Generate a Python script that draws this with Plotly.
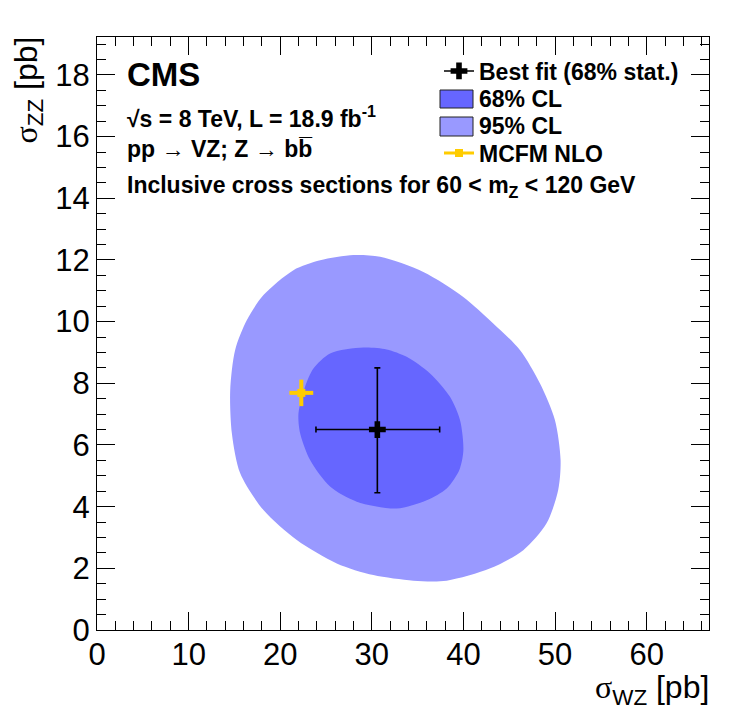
import plotly.graph_objects as go

# 95% CL contour (sigma_WZ, sigma_ZZ) in pb
cl95_x = [30.9, 28.0, 24.35, 21.44, 18.17, 16.36, 15.08, 14.54, 14.72, 15.63, 18.17,
          21.81, 26.17, 30.17, 34.53, 38.17, 42.93, 46.53, 49.07, 50.34, 50.60, 49.98,
          48.34, 46.16, 43.25, 39.98, 35.62, 30.9]
cl95_y = [12.10, 12.16, 11.99, 11.67, 10.86, 10.05, 9.08, 7.78, 6.38, 5.08, 3.89,
          2.92, 2.16, 1.78, 1.60, 1.60, 2.00, 2.59, 3.46, 4.54, 5.51, 6.81,
          8.00, 9.08, 9.94, 10.80, 11.61, 12.10]

# 68% CL contour
cl68_x = [31.62, 29.07, 25.44, 23.62, 22.71, 21.99, 22.17, 23.26, 25.44, 28.35,
          32.71, 35.99, 38.17, 39.55, 39.99, 39.62, 38.53, 36.35, 33.80, 31.62]
cl68_y = [9.10, 9.16, 8.97, 8.48, 7.89, 7.02, 6.38, 5.51, 4.65, 4.16,
          3.94, 4.21, 4.59, 5.19, 5.83, 6.81, 7.56, 8.32, 8.86, 9.10]

# best fit with 68% stat. interval
fit_x, fit_x_lo, fit_x_hi = 30.6, 23.9, 37.4
fit_y, fit_y_lo, fit_y_hi = 6.5, 4.45, 8.5

# MCFM NLO prediction
mcfm_x, mcfm_x_err = 22.3, 1.3
mcfm_y, mcfm_y_err = 7.69, 0.43

x_ticks = [0, 10, 20, 30, 40, 50, 60]
y_ticks = [0, 2, 4, 6, 8, 10, 12, 14, 16, 18]

FONT = "Liberation Sans, Arial, Helvetica, sans-serif"
SIGMA = "<span style='font-family:Liberation Serif'>σ</span>"
C95, C68, GOLD = "#9999ff", "#6666ff", "#ffcc00"

# page body adds 8px, so the figure is 16px smaller than the window
W, H = 731, 709
L, T, R, B = 89, 29, 30, 87
PW, PH = W - L - R, H - T - B


# helpers: screen pixel of the reference -> paper coordinate
def px(x):
    return (x - 8 - L) / PW


def py(y):
    return (H - B - (y - 8)) / PH


fig = go.Figure()

fig.add_trace(go.Scatter(
    x=cl95_x, y=cl95_y, fill="toself", mode="lines",
    fillcolor=C95, line=dict(width=0, color=C95, shape="spline", smoothing=0.8),
    name="95% CL", showlegend=False,
))
fig.add_trace(go.Scatter(
    x=cl68_x, y=cl68_y, fill="toself", mode="lines",
    fillcolor=C68, line=dict(width=0, color=C68, shape="spline", smoothing=0.8),
    name="68% CL", showlegend=False,
))
fig.add_trace(go.Scatter(
    x=[mcfm_x], y=[mcfm_y], mode="lines+markers",
    marker=dict(symbol="square", size=8, color=GOLD),
    line=dict(color=GOLD, width=3),
    error_x=dict(type="data", array=[mcfm_x_err], color=GOLD, thickness=4, width=0),
    error_y=dict(type="data", array=[mcfm_y_err], color=GOLD, thickness=4, width=0),
    name="MCFM NLO", legend="legend2",
))
fig.add_trace(go.Scatter(
    x=[fit_x], y=[fit_y], mode="lines+markers",
    marker=dict(symbol="cross", size=14, color="black"),
    line=dict(color="black", width=1.5),
    error_x=dict(type="data", array=[fit_x_hi - fit_x], arrayminus=[fit_x - fit_x_lo],
                 color="black", thickness=1.6, width=3),
    error_y=dict(type="data", array=[fit_y_hi - fit_y], arrayminus=[fit_y - fit_y_lo],
                 color="black", thickness=1.6, width=3),
    name="Best fit (68% stat.)", legend="legend",
))

axis_common = dict(
    showgrid=False, zeroline=False, showline=True, linecolor="black", linewidth=1,
    mirror="allticks", ticks="inside", ticklen=18, tickwidth=1, tickcolor="black",
    tickfont=dict(family=FONT, size=31, color="black"), automargin=False,
)

fig.update_xaxes(
    range=[0, 66.8], tickvals=x_ticks,
    minor=dict(dtick=2, ticks="inside", ticklen=9, tickcolor="black", tickwidth=1),
    ticklabelstandoff=-3,
    **axis_common,
)
fig.update_yaxes(
    range=[0, 19.23], tickvals=y_ticks,
    minor=dict(dtick=0.5, ticks="inside", ticklen=9, tickcolor="black", tickwidth=1),
    ticklabelstandoff=0,
    **axis_common,
)

annotations = [
    dict(text=f"{SIGMA}<sub>WZ</sub> [pb]", x=px(711), y=py(689), xanchor="right",
         yanchor="middle", font=dict(size=32)),
    dict(text=f"{SIGMA}<sub>ZZ</sub> [pb]", x=px(28), y=py(35), xanchor="center",
         yanchor="top", textangle=-90, font=dict(size=32)),
    dict(text="<b>CMS</b>", x=px(125), y=py(74), xanchor="left", yanchor="middle",
         font=dict(size=33)),
    dict(text="<b>√s = 8 TeV, L = 18.9 fb<sup>-1</sup></b>", x=px(125), y=py(117),
         xanchor="left", yanchor="middle", font=dict(size=23)),
    dict(text="<b>pp → VZ; Z → bb\u0305</b>", x=px(125), y=py(149),
         xanchor="left", yanchor="middle", font=dict(size=23)),
    dict(text="<b>Inclusive cross sections for 60 < m<sub>Z</sub> < 120 GeV</b>",
         x=px(125), y=py(186), xanchor="left", yanchor="middle", font=dict(size=23)),
    dict(text="<b>68% CL</b>", x=px(477), y=py(99), xanchor="left", yanchor="middle",
         font=dict(size=23)),
    dict(text="<b>95% CL</b>", x=px(477), y=py(126), xanchor="left", yanchor="middle",
         font=dict(size=23)),
]
for a in annotations:
    a.update(xref="paper", yref="paper", showarrow=False)
    a["font"].update(family=FONT, color="black")

# legend boxes for the two CL contours
shapes = [
    dict(type="rect", xref="paper", yref="paper", x0=px(440), x1=px(473),
         y0=py(108), y1=py(90), fillcolor=C68, line=dict(color="#222", width=1)),
    dict(type="rect", xref="paper", yref="paper", x0=px(440), x1=px(473),
         y0=py(136), y1=py(117), fillcolor=C95, line=dict(color="#222", width=1)),
]

legend_common = dict(
    xanchor="left", yanchor="middle", bgcolor="rgba(0,0,0,0)",
    font=dict(family=FONT, size=23, color="black", weight="bold"),
    itemwidth=30,
)

fig.update_layout(
    width=W, height=H,
    margin=dict(l=L, r=R, t=T, b=B, autoexpand=False),
    plot_bgcolor="white", paper_bgcolor="white",
    font=dict(family=FONT, color="black"),
    annotations=annotations,
    shapes=shapes,
    showlegend=True,
    legend=dict(x=px(439), y=py(71), **legend_common),
    legend2=dict(x=px(439), y=py(153), **legend_common),
)

fig.write_html("out.html")
